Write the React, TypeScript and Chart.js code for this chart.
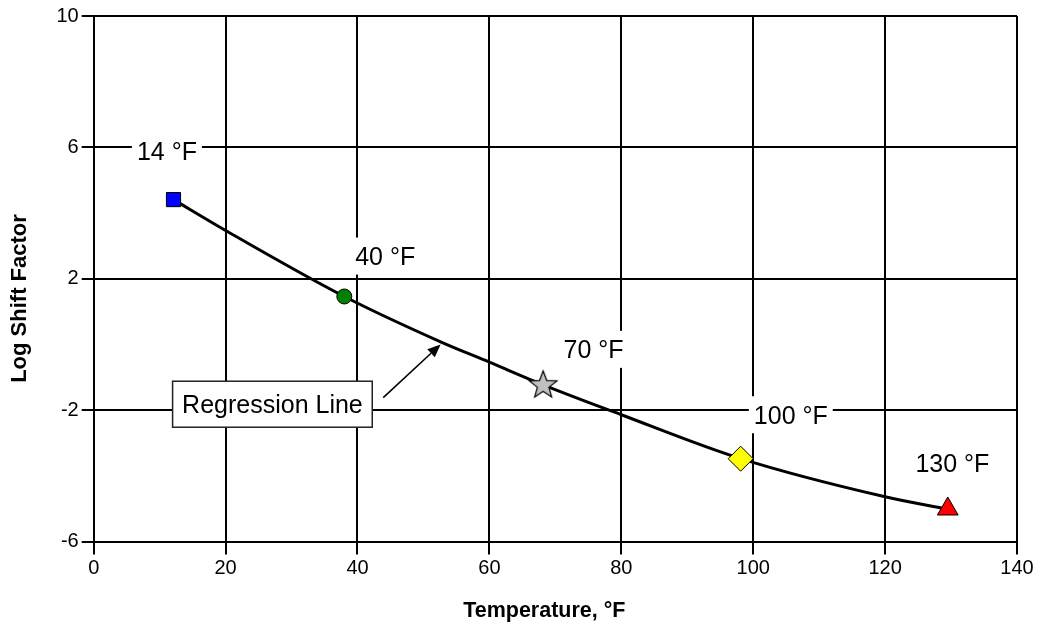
import React, { useEffect, useRef } from "react";
import { Chart, registerables } from "chart.js";

Chart.register(...registerables);

// ---- data ----
const xTicks = [0, 20, 40, 60, 80, 100, 120, 140];
const yTicks = [-6, -2, 2, 6, 10];

const sampleTemps = [12.1, 38.0, 68.15, 98.1, 129.5];
const sampleShift = [4.41, 1.46, -1.23, -3.48, -5.01];
const sampleLabels = ["14 °F", "40 °F", "70 °F", "100 °F", "130 °F"];
const sampleColors = ["#0000FF", "#008000", "#C0C0C0", "#FFFF00", "#FF0000"];
const labelX = [11.1, 44.2, 75.8, 105.7, 130.2];
const labelY = [5.88, 2.69, -0.15, -2.14, -3.61];

const regressionTemps = [12.1, 20, 38, 52.6, 60, 68.15, 80, 98, 120, 129.5];
const regressionShift = [4.41, 3.47, 1.46, 0.08, -0.54, -1.23, -2.14, -3.47, -4.64, -5.02];

const calloutText = "Regression Line";
const calloutAt = { x: 27.1, y: -1.82 };
const arrowFrom = { x: 43.9, y: -1.62 };
const arrowTo = { x: 52.6, y: 0.0 };

const xTitle = "Temperature, °F";
const yTitle = "Log Shift Factor";

const FONT = '"Liberation Sans", Arial, Helvetica, sans-serif';

function makeStar(): HTMLCanvasElement {
  const c = document.createElement("canvas");
  c.width = 36;
  c.height = 36;
  const ctx = c.getContext("2d")!;
  const cx = 18, cy = 18.5, R = 14.5, r = R * 0.42;
  ctx.beginPath();
  for (let i = 0; i < 10; i++) {
    const ang = -Math.PI / 2 + (i * Math.PI) / 5;
    const rad = i % 2 === 0 ? R : r;
    const px = cx + rad * Math.cos(ang);
    const py = cy + rad * Math.sin(ang);
    if (i === 0) ctx.moveTo(px, py);
    else ctx.lineTo(px, py);
  }
  ctx.closePath();
  ctx.fillStyle = "#C0C0C0";
  ctx.fill();
  ctx.lineWidth = 1.2;
  ctx.strokeStyle = "#000";
  ctx.stroke();
  return c;
}

const annotationPlugin = {
  id: "annotations",
  beforeDatasetsDraw(chart: any) {
    const { ctx } = chart;
    const xs = chart.scales.x;
    const ys = chart.scales.y;
    ctx.save();
    // point labels with white backgrounds
    const fs = 25;
    ctx.font = `${fs}px ${FONT}`;
    ctx.textAlign = "center";
    ctx.textBaseline = "alphabetic";
    sampleLabels.forEach((t, i) => {
      const px = xs.getPixelForValue(labelX[i]);
      const py = ys.getPixelForValue(labelY[i]);
      const w = ctx.measureText(t).width + 10;
      const h = 37;
      ctx.fillStyle = "#fff";
      ctx.fillRect(px - w / 2, py - h / 2, w, h);
      ctx.fillStyle = "#000";
      ctx.fillText(t, px, py + 0.358 * fs);
    });

    // callout box
    const bx = xs.getPixelForValue(calloutAt.x);
    const by = ys.getPixelForValue(calloutAt.y);
    const bw = ctx.measureText(calloutText).width + 19;
    const bh = 46;
    ctx.fillStyle = "#fff";
    ctx.fillRect(bx - bw / 2, by - bh / 2, bw, bh);
    ctx.lineWidth = 1.5;
    ctx.strokeStyle = "#222";
    ctx.strokeRect(bx - bw / 2, by - bh / 2, bw, bh);
    ctx.fillStyle = "#000";
    ctx.fillText(calloutText, bx, by + 0.358 * fs);

    // arrow
    const x1 = xs.getPixelForValue(arrowFrom.x);
    const y1 = ys.getPixelForValue(arrowFrom.y);
    const x2 = xs.getPixelForValue(arrowTo.x);
    const y2 = ys.getPixelForValue(arrowTo.y);
    const ang = Math.atan2(y2 - y1, x2 - x1);
    const hl = 13, hw = 5.5;
    const bxp = x2 - hl * Math.cos(ang);
    const byp = y2 - hl * Math.sin(ang);
    ctx.beginPath();
    ctx.moveTo(x1, y1);
    ctx.lineTo(bxp, byp);
    ctx.lineWidth = 1.6;
    ctx.strokeStyle = "#000";
    ctx.stroke();
    ctx.beginPath();
    ctx.moveTo(x2, y2);
    ctx.lineTo(bxp + hw * Math.sin(ang), byp - hw * Math.cos(ang));
    ctx.lineTo(bxp - hw * Math.sin(ang), byp + hw * Math.cos(ang));
    ctx.closePath();
    ctx.fillStyle = "#000";
    ctx.fill();
    ctx.restore();
  },
  afterDraw(chart: any) {
    const { ctx } = chart;
    ctx.save();
    ctx.fillStyle = "#000";
    ctx.textAlign = "center";
    ctx.textBaseline = "alphabetic";
    const fx = 21.5;
    ctx.font = `bold ${fx}px ${FONT}`;
    ctx.fillText(xTitle, 544.3, 609.8 + 0.358 * fx);
    const fy = 22;
    ctx.font = `bold ${fy}px ${FONT}`;
    ctx.translate(18.5, 298.5);
    ctx.rotate(-Math.PI / 2);
    ctx.fillText(yTitle, 0, 0.358 * fy);
    ctx.restore();
  },
};

export default function App() {
  const ref = useRef<HTMLCanvasElement | null>(null);

  useEffect(() => {
    document.body.style.margin = "0";
    const canvas = ref.current;
    if (!canvas) return;
    const star = makeStar();
    const tickFont = { family: FONT, size: 20 };

    const chart = new Chart(canvas, {
      type: "scatter",
      data: {
        datasets: [
          {
            label: "Samples",
            data: sampleTemps.map((x, i) => ({ x, y: sampleShift[i] })),
            pointStyle: ["rect", "circle", star, "rectRot", "triangle"] as any,
            pointRadius: [10, 7.5, 15, 12.5, 12],
            pointHoverRadius: [10, 7.5, 15, 12.5, 12],
            backgroundColor: sampleColors,
            borderColor: "#000",
            borderWidth: 1,
            order: 0,
          } as any,
          {
            type: "line",
            label: "Regression Line",
            data: regressionTemps.map((x, i) => ({ x, y: regressionShift[i] })),
            borderColor: "#000",
            borderWidth: 3,
            pointRadius: 0,
            showLine: true,
            fill: false,
            cubicInterpolationMode: "monotone",
            order: 1,
          } as any,
        ],
      },
      options: {
        responsive: false,
        animation: false,
        events: [],
        layout: { padding: { top: 15, right: 21, left: 0, bottom: 0 } },
        plugins: {
          legend: { display: false },
          tooltip: { enabled: false },
        },
        scales: {
          x: {
            type: "linear",
            min: 0,
            max: 140,
            afterBuildTicks: (s: any) => {
              s.ticks = xTicks.map((v) => ({ value: v }));
            },
            afterFit: (s: any) => {
              s.height = 82.5;
            },
            grid: { color: "#000", lineWidth: 2, tickLength: 13, tickColor: "#000" },
            border: { color: "#000", width: 2 },
            ticks: { font: tickFont, color: "#000", padding: 2, maxRotation: 0, autoSkip: false },
          },
          y: {
            type: "linear",
            min: -6,
            max: 10,
            afterBuildTicks: (s: any) => {
              s.ticks = yTicks.map((v) => ({ value: v }));
            },
            afterFit: (s: any) => {
              s.width = 93.7;
            },
            grid: { color: "#000", lineWidth: 2, tickLength: 12, tickColor: "#000" },
            border: { color: "#000", width: 2 },
            ticks: { font: tickFont, color: "#000", padding: 3, autoSkip: false },
          },
        },
      } as any,
      plugins: [annotationPlugin],
    });

    return () => chart.destroy();
  }, []);

  return (
    <div style={{ width: 1038, height: 624, background: "#fff" }}>
      <canvas ref={ref} width={1038} height={624} style={{ display: "block" }} />
    </div>
  );
}
